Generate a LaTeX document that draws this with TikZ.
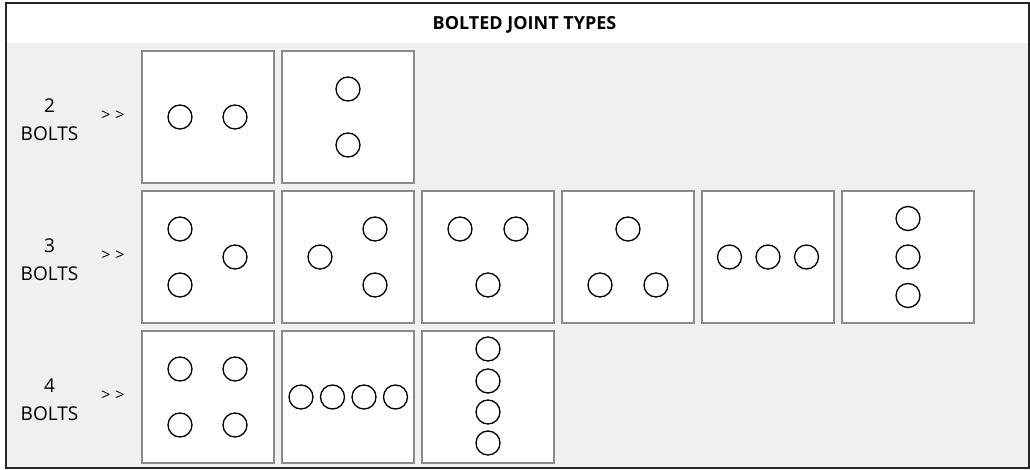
\documentclass[tikz,border=0pt]{standalone}
\usepackage{fontspec}
\setmainfont{Open Sans}
\usepackage{xcolor}
\definecolor{panel_gray}{HTML}{F0F0F0}
\definecolor{frame_gray}{HTML}{8A8A8A}
\usetikzlibrary{positioning,calc}
\tikzset{BOX/.style={rectangle,minimum size=132pt,inner sep=0pt,outer sep=0pt,draw=frame_gray,line width=1.2pt,fill=white}}
\tikzset{BOLT/.style={circle,minimum size=24pt,inner sep=0pt,draw=black,line width=1.3pt}}
\tikzset{COUNT/.style={align=center,font=\fontsize{19}{28}\selectfont,text=black}}
\tikzset{POINTER/.style={font=\fontsize{16}{18}\selectfont,text=black}}

\begin{document}
\begin{tikzpicture}[x=1pt,y=-1pt]

\useasboundingbox (0,0) rectangle (1030,470);
\fill[white] (0,0) rectangle (1030,470);
\fill[panel_gray] (6,43) rectangle (1029,468);
\draw[line width=2pt,black!85] (6,3) rectangle (1029,468);

\node[font=\bfseries\fontsize{18}{20}\selectfont] (n_title) at (524.5,25) {BOLTED JOINT TYPES};

% row labels
\node[COUNT] (n_label_two) at (49.5,119.5) {2\\BOLTS};
\node[COUNT] (n_label_three) at (49.5,259.5) {3\\BOLTS};
\node[COUNT] (n_label_four) at (49.5,399.5) {4\\BOLTS};
\node[POINTER] (n_ptr_two) at (113,116) {>\hspace{5pt}>};
\node[POINTER] (n_ptr_three) at (113,256) {>\hspace{5pt}>};
\node[POINTER] (n_ptr_four) at (113,396) {>\hspace{5pt}>};

% 2 bolts
\node[BOX] (n_two_a) at (208,117) {};
\node[BOX, right=8pt of n_two_a] (n_two_b) {};

\node[BOLT] at ($(n_two_a)+(-28,0)$) {};
\node[BOLT] at ($(n_two_a)+(27,0)$) {};

\node[BOLT] at ($(n_two_b)+(0,-28)$) {};
\node[BOLT] at ($(n_two_b)+(0,28)$) {};

% 3 bolts
\node[BOX] (n_three_a) at (208,257) {};
\node[BOX, right=8pt of n_three_a] (n_three_b) {};
\node[BOX, right=8pt of n_three_b] (n_three_c) {};
\node[BOX, right=8pt of n_three_c] (n_three_d) {};
\node[BOX, right=8pt of n_three_d] (n_three_e) {};
\node[BOX, right=8pt of n_three_e] (n_three_f) {};

\node[BOLT] at ($(n_three_a)+(-28,-28)$) {};
\node[BOLT] at ($(n_three_a)+(27,0)$) {};
\node[BOLT] at ($(n_three_a)+(-28,28)$) {};

\node[BOLT] at ($(n_three_b)+(-28,0)$) {};
\node[BOLT] at ($(n_three_b)+(27,-28)$) {};
\node[BOLT] at ($(n_three_b)+(27,28)$) {};

\node[BOLT] at ($(n_three_c)+(-28,-28)$) {};
\node[BOLT] at ($(n_three_c)+(28,-28)$) {};
\node[BOLT] at ($(n_three_c)+(0,28)$) {};

\node[BOLT] at ($(n_three_d)+(0,-28)$) {};
\node[BOLT] at ($(n_three_d)+(-28,28)$) {};
\node[BOLT] at ($(n_three_d)+(28,28)$) {};

\node[BOLT] at ($(n_three_e)+(-38.5,0)$) {};
\node[BOLT] at ($(n_three_e)+(0,0)$) {};
\node[BOLT] at ($(n_three_e)+(38.5,0)$) {};

\node[BOLT] at ($(n_three_f)+(0,-38.5)$) {};
\node[BOLT] at ($(n_three_f)+(0,0)$) {};
\node[BOLT] at ($(n_three_f)+(0,38.5)$) {};

% 4 bolts
\node[BOX] (n_four_a) at (208,397) {};
\node[BOX, right=8pt of n_four_a] (n_four_b) {};
\node[BOX, right=8pt of n_four_b] (n_four_c) {};

\node[BOLT] at ($(n_four_a)+(-28,-28)$) {};
\node[BOLT] at ($(n_four_a)+(27,-28)$) {};
\node[BOLT] at ($(n_four_a)+(-28,28)$) {};
\node[BOLT] at ($(n_four_a)+(27,28)$) {};

\node[BOLT] at ($(n_four_b)+(-47,0)$) {};
\node[BOLT] at ($(n_four_b)+(-15.5,0)$) {};
\node[BOLT] at ($(n_four_b)+(16,0)$) {};
\node[BOLT] at ($(n_four_b)+(47.5,0)$) {};

\node[BOLT] at ($(n_four_c)+(0,-48)$) {};
\node[BOLT] at ($(n_four_c)+(0,-16)$) {};
\node[BOLT] at ($(n_four_c)+(0,15)$) {};
\node[BOLT] at ($(n_four_c)+(0,46)$) {};

\end{tikzpicture}
\end{document}
